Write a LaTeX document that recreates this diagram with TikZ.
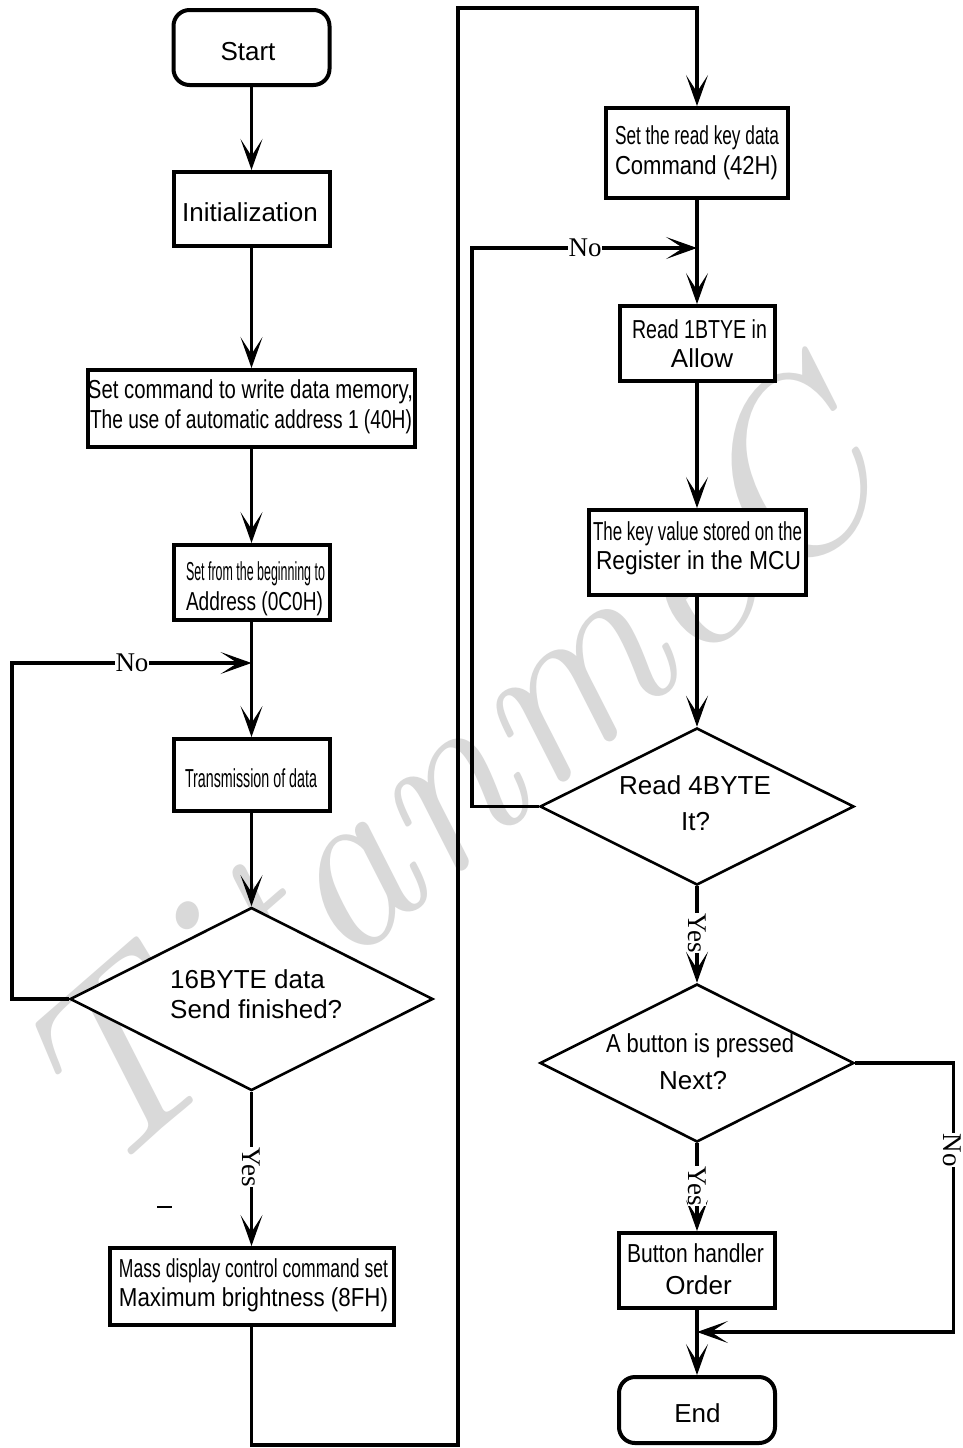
\documentclass[tikz,border=0pt]{standalone}
\usepackage{fontspec}
\usepackage{graphicx}
\usetikzlibrary{arrows.meta,shapes.geometric}
\newfontfamily\fsans{Liberation Sans}
\newfontfamily\fserif{Liberation Serif}
\newcommand\fw[2]{\resizebox{#1pt}{\height}{#2}}
\begin{document}
\begin{tikzpicture}[x=1pt,y=-1pt,
  box/.style={draw, line width=4pt, fill=white, inner sep=0pt},
  term/.style={box, rounded corners=16pt},
  dec/.style={draw, diamond, line width=2.6pt, fill=white, inner sep=0pt},
  txt/.style={font=\fsans\fontsize{26}{30}\selectfont, inner sep=0pt, anchor=base},
  con/.style={line width=3.6pt},
  arr/.style={con, -{Stealth[length=31pt,width=22pt,inset=17pt,line width=1.2pt]}},
  lbl/.style={font=\fserif\fontsize{27}{30}\selectfont, fill=white, inner sep=0.5pt},
  vlbl/.style={lbl, rotate=-90},
]
\useasboundingbox (0,0) rectangle (963,1448);
\fill[white] (0,0) rectangle (963,1448);

% watermark
\node[rotate=41, text=gray!30, inner sep=0pt] (wm) at (445,775) {\resizebox{1060pt}{!}{\itshape TitanmeC}};
\draw[line width=1.2pt] (157,1207) -- (172,1207);

% left column
\node[term, minimum width=156pt, minimum height=75pt] (start) at (251.5,47.5) {};
\node[box, minimum width=156pt, minimum height=74pt] (init) at (251.5,209) {};
\node[box, minimum width=327pt, minimum height=77pt] (setcmd) at (251.5,408.5) {};
\node[box, minimum width=156pt, minimum height=75pt] (addr) at (251.5,582.5) {};
\node[box, minimum width=156pt, minimum height=72pt] (trans) at (251.5,775) {};
\node[dec, minimum width=363pt, minimum height=183pt] (dia1) at (251.5,999) {};
\node[box, minimum width=284pt, minimum height=77pt] (mass) at (251.5,1286.5) {};

% right column
\node[box, minimum width=182pt, minimum height=90pt] (setread) at (697,153) {};
\node[box, minimum width=155pt, minimum height=75pt] (read1) at (697,343.5) {};
\node[box, minimum width=217pt, minimum height=85pt] (keyval) at (697,552.5) {};
\node[dec, minimum width=314pt, minimum height=157pt] (dia2) at (697,806.5) {};
\node[dec, minimum width=314pt, minimum height=158pt] (dia3) at (697,1063) {};
\node[box, minimum width=156pt, minimum height=75pt] (btn) at (697,1270.5) {};
\node[term, minimum width=156pt, minimum height=66pt] (end) at (697,1410) {};

% junction points
\coordinate (j1) at (251.5,663);
\coordinate (j2) at (697,248);
\coordinate (j3) at (697,1332);
\coordinate (cA) at (458,1445);
\coordinate (cB) at (458,8);

% connectors
\draw[arr] (start) -- (init);
\draw[arr] (init) -- (setcmd);
\draw[arr] (setcmd) -- (addr);
\draw[arr] (addr) -- (trans);
\draw[arr] (trans) -- (dia1);
\draw[arr] (dia1.south) -- (mass.north);
\draw[arr] (dia1.west) -- ++(-57,0) |- (j1);
\draw[arr] (mass.south) |- (cA) -- (cB) -| (setread.north);
\draw[arr] (setread) -- (read1);
\draw[arr] (dia2.west) -- ++(-67,0) |- (j2);
\draw[arr] (read1) -- (keyval);
\draw[arr] (keyval) -- (dia2);
\draw[arr] (dia2.south) -- (dia3.north);
\draw[arr] (dia3.south) -- (btn.north);
\draw[arr] (btn) -- (end);
\draw[arr] (dia3.east) -- ++(98,0) |- (j3);

% texts
\node[txt] (tStart) at (248,60) {Start};
\node[txt] (tInit) at (250,221) {Initialization};
\node[txt] (tSc1) at (250.5,398) {\fw{325}{Set command to write data memory,}};
\node[txt] (tSc2) at (251,428) {\fw{322}{The use of automatic address 1 (40H)}};
\node[txt] (tAd1) at (255.5,580) {\fw{139}{Set from the beginning to}};
\node[txt] (tAd2) at (254.5,610) {\fw{137}{Address (0C0H)}};
\node[txt] (tTr) at (251,787) {\fw{132}{Transmission of data}};
\node[txt, anchor=base west] (tD1a) at (170,988) {16BYTE data};
\node[txt, anchor=base west] (tD1b) at (170,1018) {Send finished?};
\node[txt] (tMa1) at (253.5,1277) {\fw{269}{Mass display control command set}};
\node[txt] (tMa2) at (253.5,1306) {\fw{269}{Maximum brightness (8FH)}};
\node[txt] (tSr1) at (697,144) {\fw{164}{Set the read key data}};
\node[txt] (tSr2) at (696.5,174) {\fw{163}{Command (42H)}};
\node[txt] (tR1a) at (699.5,338) {\fw{135}{Read 1BTYE in}};
\node[txt] (tR1b) at (702,367) {Allow};
\node[txt] (tKv1) at (697.5,540) {\fw{209}{The key value stored on the}};
\node[txt] (tKv2) at (698.5,569) {\fw{205}{Register in the MCU}};
\node[txt] (tD2a) at (695,794) {Read 4BYTE};
\node[txt] (tD2b) at (695.5,830) {It?};
\node[txt] (tD3a) at (700,1052) {\fw{188}{A button is pressed}};
\node[txt] (tD3b) at (693,1089) {Next?};
\node[txt] (tBt1) at (695.5,1262) {\fw{137}{Button handler}};
\node[txt] (tBt2) at (698.5,1294) {Order};
\node[txt] (tEnd) at (697.5,1422) {End};

% branch labels
\node[lbl] (no1) at (132,663) {No};
\node[lbl] (no2) at (585,248) {No};
\node[vlbl] (no3) at (952,1150) {No};
\node[vlbl] (yes1) at (251.5,1167) {Yes};
\node[vlbl] (yes2) at (697,933) {Yes};
\node[vlbl] (yes3) at (697,1186) {Yes};
\end{tikzpicture}
\end{document}
